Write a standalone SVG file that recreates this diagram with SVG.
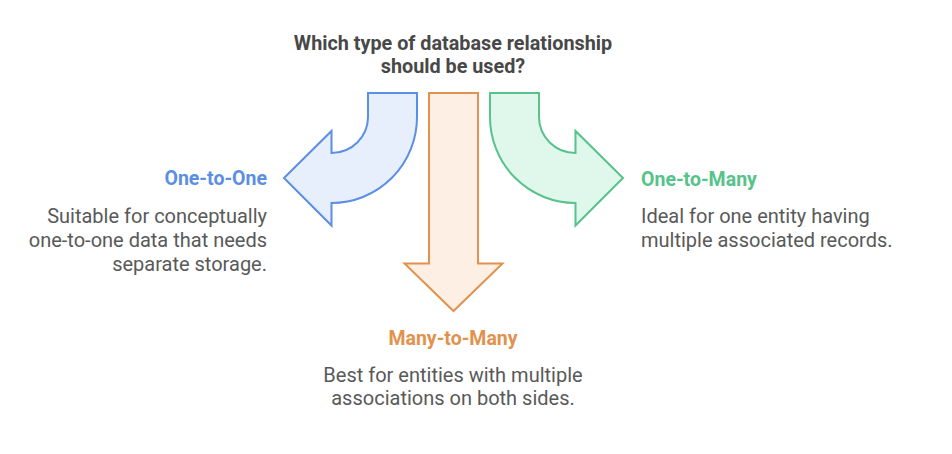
<svg xmlns="http://www.w3.org/2000/svg" width="952" height="454" viewBox="0 0 952 454">
<style>
.t{font-family:Roboto,"Liberation Sans",sans-serif;}
.title{font-size:19.8px;font-weight:bold;fill:#484848;text-anchor:middle;}
.head{font-size:19.5px;font-weight:bold;}
.desc{font-size:20px;fill:#595959;}
.blue{fill:#e7effc;stroke:#5b8ee4;stroke-width:2;stroke-linejoin:miter;}
.orange{fill:#fdefe3;stroke:#e2924e;stroke-width:2;}
.green{fill:#e0f7eb;stroke:#55c38a;stroke-width:2;}
</style>
<rect width="952" height="454" fill="#ffffff"/>
<g id="title">
<text class="t title" x="453" y="50">Which type of database relationship</text>
<text class="t title" x="453" y="73">should be used?</text>
</g>
<g id="connectors">
<path class="blue" d="M417 93 L368 93 L368 117 A36.5 36 0 0 1 331.5 153 L331.5 131 L284 178 L331.5 225.5 L331.5 203 A85.5 86 0 0 0 417 117 Z"/>
<path class="orange" d="M429 93 L478 93 L478 263.5 L502.5 263.5 L453.5 311 L404.5 263.5 L429 263.5 Z"/>
<path class="green" d="M490 93 L539 93 L539 117 A36.5 36 0 0 0 575.5 153 L575.5 131 L623 178 L575.5 225.5 L575.5 203 A85.5 86 0 0 1 490 117 Z"/>
</g>
<g id="one-to-one">
<text class="t head" x="267" y="185" text-anchor="end" fill="#5b8ee4">One-to-One</text>
<text class="t desc" x="267" y="223" text-anchor="end">Suitable for conceptually</text>
<text class="t desc" x="267" y="247" text-anchor="end">one-to-one data that needs</text>
<text class="t desc" x="267" y="271" text-anchor="end">separate storage.</text>
</g>
<g id="one-to-many">
<text class="t head" x="641" y="186" fill="#55c38a">One-to-Many</text>
<text class="t desc" x="641" y="223">Ideal for one entity having</text>
<text class="t desc" x="641" y="247">multiple associated records.</text>
</g>
<g id="many-to-many">
<text class="t head" x="453" y="345" text-anchor="middle" fill="#e2924e">Many-to-Many</text>
<text class="t desc" x="453" y="382" text-anchor="middle">Best for entities with multiple</text>
<text class="t desc" x="453" y="405" text-anchor="middle">associations on both sides.</text>
</g>
</svg>
